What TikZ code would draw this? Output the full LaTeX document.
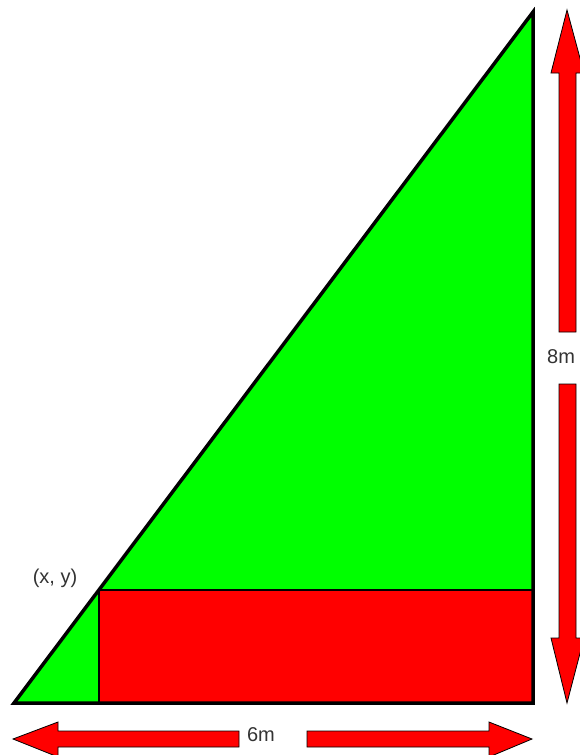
\documentclass[tikz,border=0pt]{standalone}
\usepackage{fontspec}
\setmainfont{Liberation Sans}
\definecolor{tgreen}{RGB}{0,255,0}
\definecolor{tred}{RGB}{255,0,0}
\begin{document}
\begin{tikzpicture}[x=1pt,y=-1pt,
  arrowshape/.style={fill=tred,draw=black,line width=0.8pt,line join=miter},
  lbl/.style={inner sep=0pt,text=black!80,font=\fontsize{20}{22}\selectfont}]
\useasboundingbox (0,0) rectangle (579,755);
\coordinate (A) at (14,703);
\coordinate (B) at (533,703);
\coordinate (C) at (533,12);
\coordinate (P) at (99,590);
\coordinate (Q) at (533,590);
\coordinate (R) at (99,703);
\fill[tgreen] (A) -- (B) -- (C) -- cycle;
\fill[tred] (P) rectangle (B);
\draw[line width=1.5pt] (P) -- (Q);
\draw[line width=1.5pt] (P) -- (R);
\draw[line width=3.5pt,line join=miter] (A) -- (B) -- (C) -- cycle;
% vertical arrow
\draw[arrowshape] (567,10) -- (551,73) -- (559,73) -- (559,332) -- (576,332) -- (576,73) -- (584,73) -- cycle;
\draw[arrowshape] (567,703) -- (551,638) -- (559,638) -- (559,384) -- (576,384) -- (576,638) -- (584,638) -- cycle;
\node[lbl,anchor=west] (h) at (547,357) {8m};
% horizontal arrow
\draw[arrowshape] (13,739) -- (58,722) -- (58,731) -- (239,731) -- (239,747) -- (58,747) -- (58,757) -- cycle;
\draw[arrowshape] (532,739) -- (489,722) -- (489,731) -- (307,731) -- (307,747) -- (489,747) -- (489,757) -- cycle;
\node[lbl] (w) at (261,735) {6m};
\node[lbl] (xy) at (55,578) {(x, y)};
\end{tikzpicture}
\end{document}
